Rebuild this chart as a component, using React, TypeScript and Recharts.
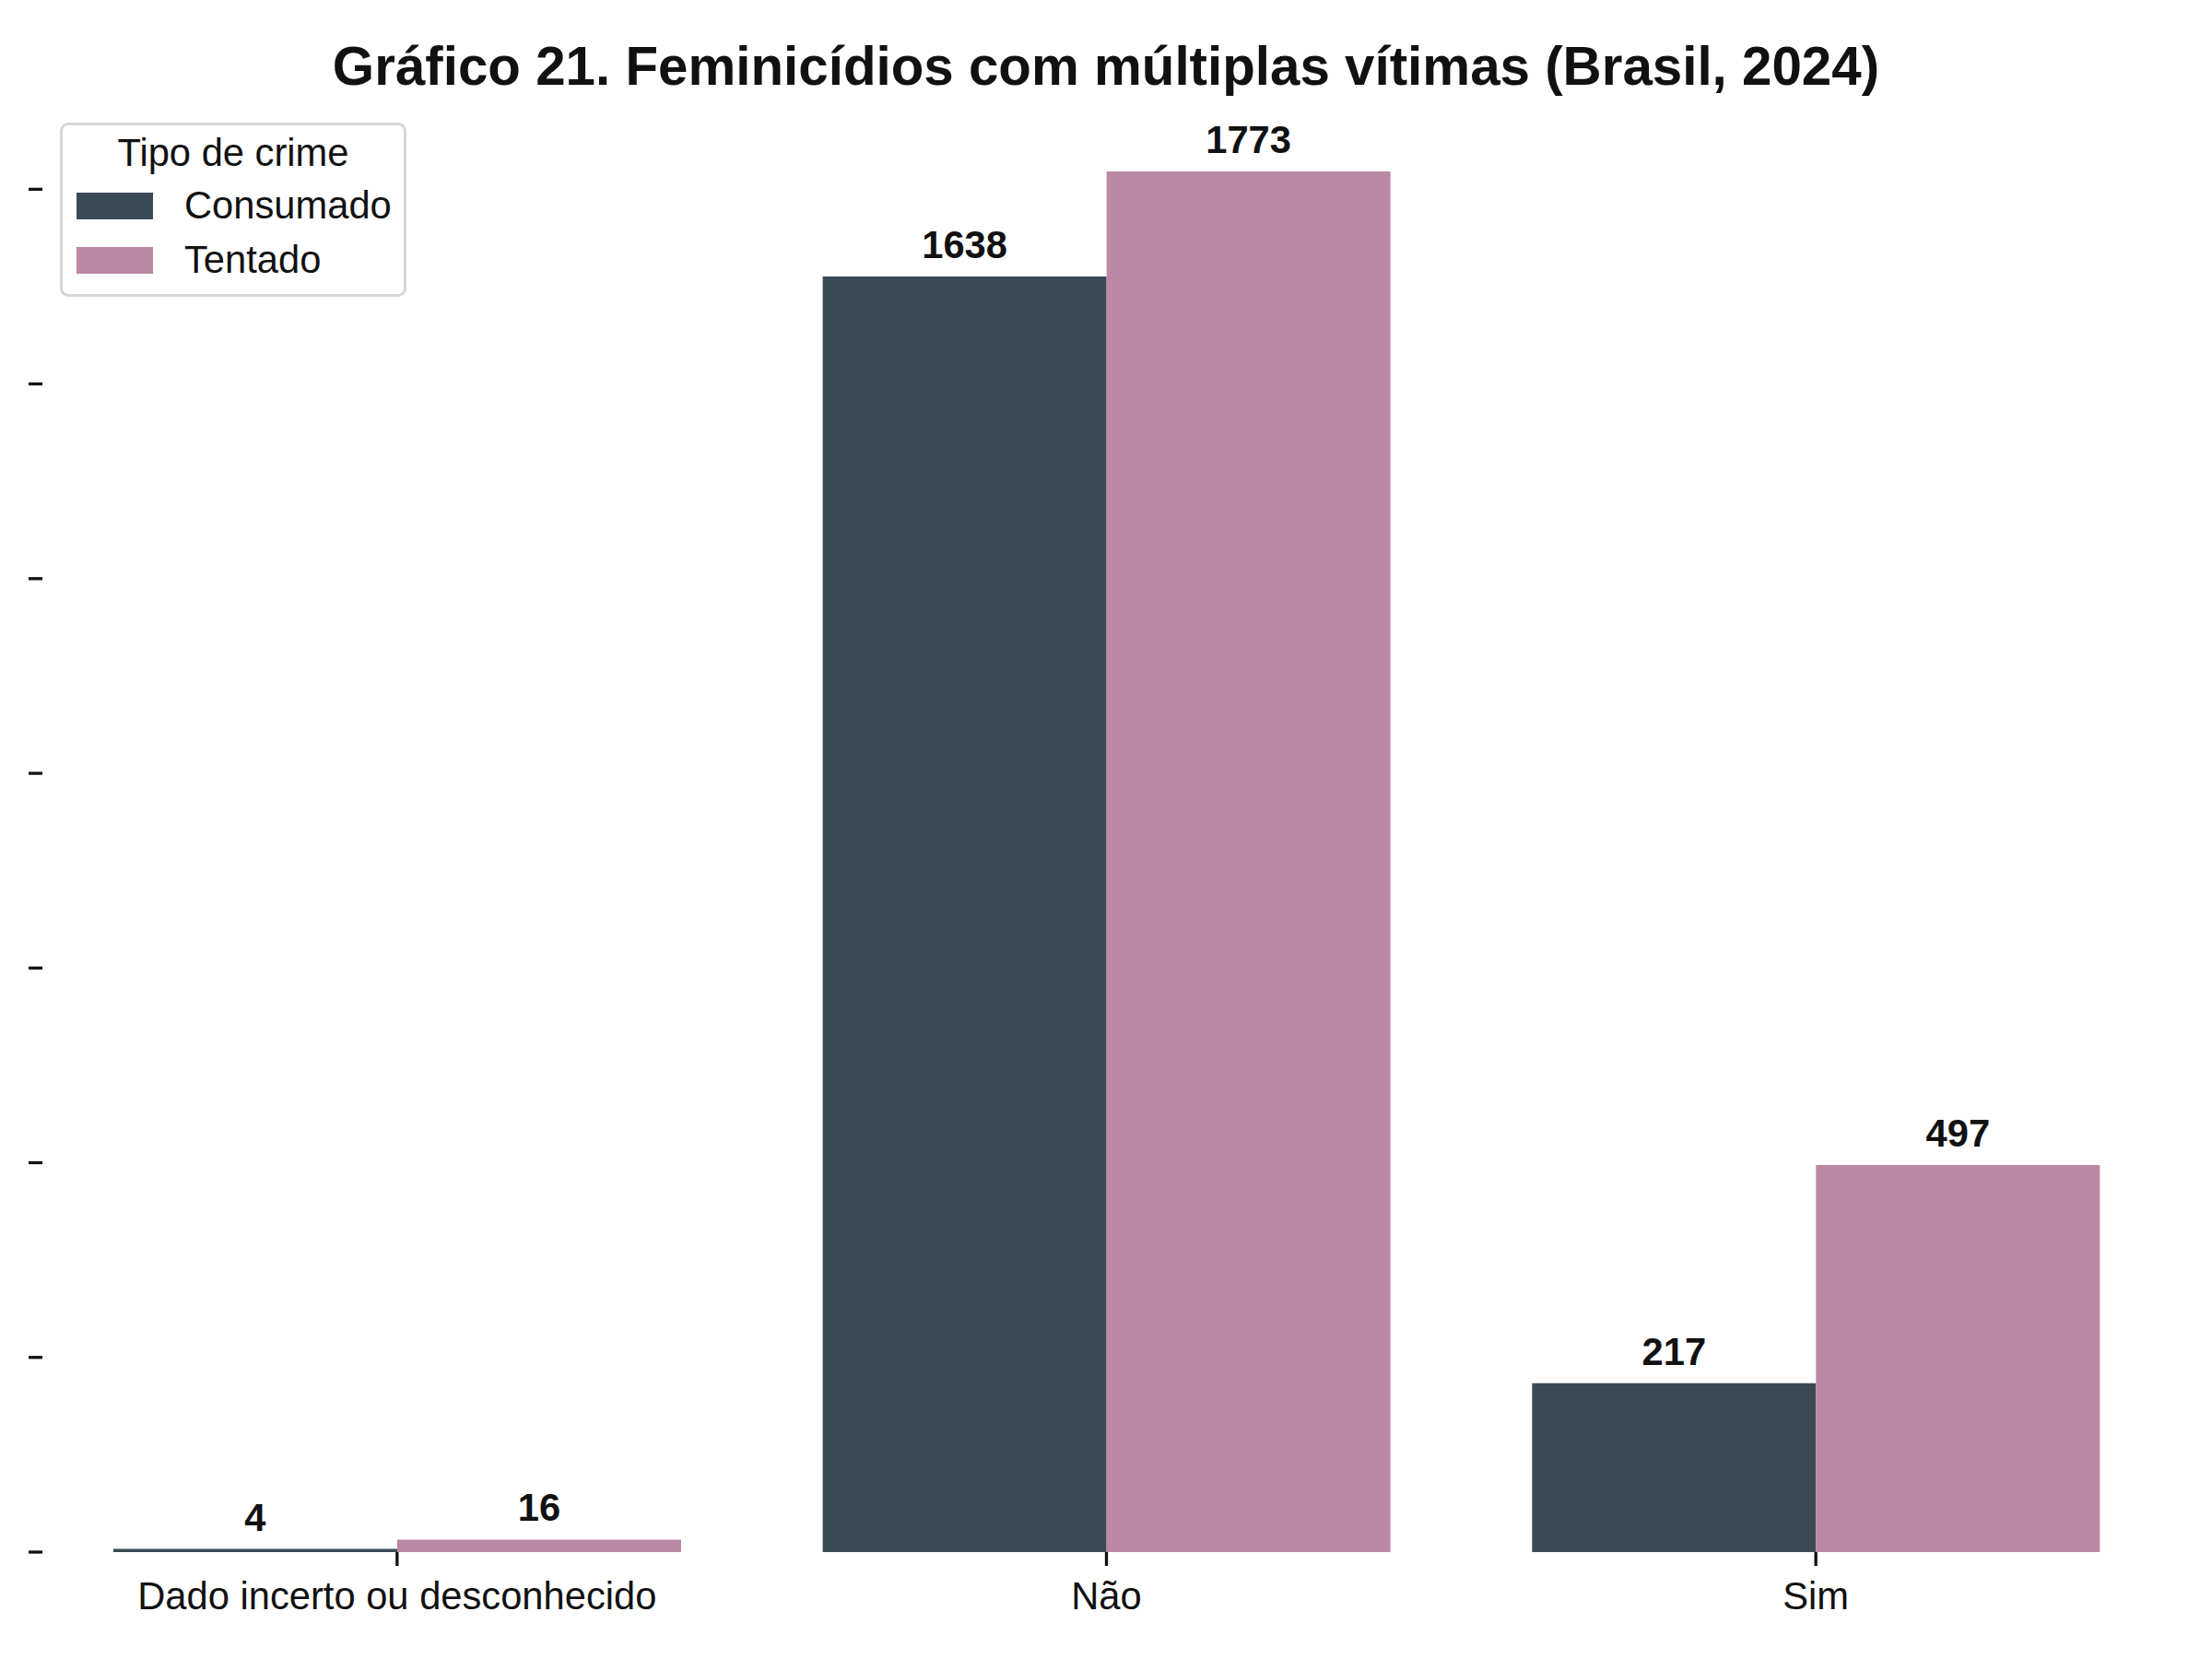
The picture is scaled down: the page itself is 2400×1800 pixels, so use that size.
import { BarChart, Bar, XAxis, YAxis, LabelList } from "recharts";

// Gráfico 21 — feminicídios com múltiplas vítimas (Brasil, 2024)
const CATEGORIES = ["Dado incerto ou desconhecido", "Não", "Sim"];
const CONSUMADO = [4, 1638, 217];
const TENTADO = [16, 1773, 497];
const SERIES = [
  { key: "consumado", name: "Consumado", color: "#3A4A55" },
  { key: "tentado", name: "Tentado", color: "#BB88A5" },
];
const Y_TICKS = [0, 250, 500, 750, 1000, 1250, 1500, 1750];

const FONT = '"Liberation Sans", Arial, Helvetica, sans-serif';
const FS = 41.7; // 10pt @ 300dpi
const INK = "#111";

const rows = CATEGORIES.map((cat, i) => ({
  cat,
  consumado: CONSUMADO[i],
  tentado: TENTADO[i],
}));

// matplotlib-style headroom: 5% above the tallest bar
const yMax = Math.max(...CONSUMADO, ...TENTADO) * 1.05;

export default function App() {
  return (
    <div
      style={{
        position: "absolute",
        left: 0,
        top: 0,
        width: 2400,
        height: 1800,
        background: "#fff",
        fontFamily: FONT,
      }}
    >
      <div
        style={{
          position: "absolute",
          left: 0,
          width: 2400,
          top: 43,
          textAlign: "center",
          fontSize: 58.3,
          lineHeight: "58.3px",
          fontWeight: "bold",
          color: INK,
          whiteSpace: "nowrap",
        }}
      >
        Gráfico 21. Feminicídios com múltiplas vítimas (Brasil, 2024)
      </div>

      <BarChart
        width={2400}
        height={1800}
        data={rows}
        margin={{ top: 111, right: 45, bottom: 0, left: 0 }}
        barCategoryGap="10%"
        barGap={0}
      >
        <XAxis
          dataKey="cat"
          axisLine={false}
          height={116}
          tickSize={15}
          tickMargin={17}
          tickLine={{ stroke: INK, strokeWidth: 3.3 }}
          tick={{ fontSize: FS, fill: INK, fontFamily: FONT }}
          interval={0}
        />
        <YAxis
          width={46}
          domain={[0, yMax]}
          ticks={Y_TICKS}
          interval={0}
          axisLine={false}
          tickSize={15}
          tickLine={{ stroke: INK, strokeWidth: 3.3 }}
          tickFormatter={() => ""}
          tick={{ fontSize: 1 }}
        />
        {SERIES.map((s) => (
          <Bar key={s.key} dataKey={s.key} name={s.name} fill={s.color} isAnimationActive={false}>
            <LabelList
              dataKey={s.key}
              position="top"
              offset={20}
              style={{ fontSize: FS, fontWeight: "bold", fill: INK, fontFamily: FONT }}
            />
          </Bar>
        ))}
      </BarChart>

      {/* legend box, matplotlib style */}
      <div
        style={{
          position: "absolute",
          left: 65,
          top: 133,
          width: 370,
          height: 183,
          border: "3px solid #d6d6d6",
          borderRadius: 9,
          background: "#fff",
        }}
      />
      <div
        style={{
          position: "absolute",
          left: 65,
          width: 376,
          top: 145,
          textAlign: "center",
          fontSize: FS,
          lineHeight: `${FS}px`,
          color: INK,
        }}
      >
        Tipo de crime
      </div>
      {SERIES.map((s, i) => (
        <div key={s.key}>
          <div
            style={{
              position: "absolute",
              left: 83,
              top: 209 + i * 59,
              width: 83,
              height: 29,
              background: s.color,
            }}
          />
          <div
            style={{
              position: "absolute",
              left: 200,
              top: 202 + i * 59,
              fontSize: FS,
              lineHeight: `${FS}px`,
              color: INK,
              whiteSpace: "nowrap",
            }}
          >
            {s.name}
          </div>
        </div>
      ))}
    </div>
  );
}
